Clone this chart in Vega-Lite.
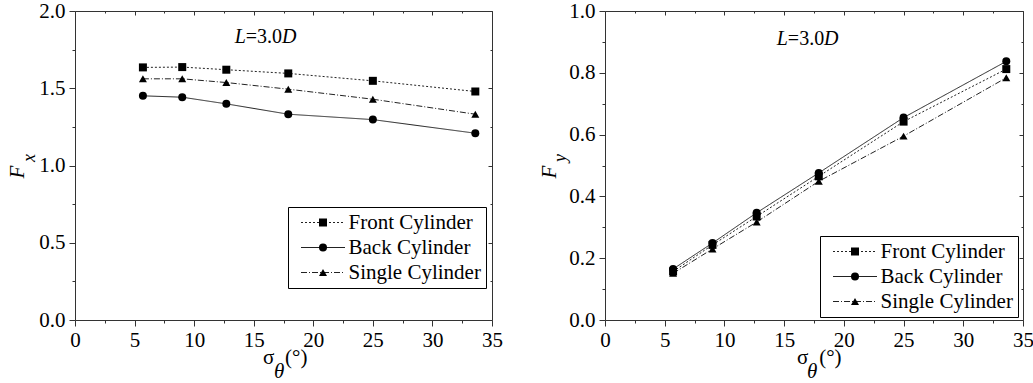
{
  "$schema": "https://vega.github.io/schema/vega-lite/v6.json",
  "background": "white",
  "padding": {"left": 7, "top": 0, "right": 0, "bottom": 0},
  "spacing": 35,
  "datasets": {
    "fx": [
      {"sigma": 5.7, "F": 1.635, "series": "Front Cylinder"},
      {"sigma": 9.0, "F": 1.637, "series": "Front Cylinder"},
      {"sigma": 12.7, "F": 1.620, "series": "Front Cylinder"},
      {"sigma": 17.9, "F": 1.596, "series": "Front Cylinder"},
      {"sigma": 25.0, "F": 1.548, "series": "Front Cylinder"},
      {"sigma": 33.6, "F": 1.479, "series": "Front Cylinder"},
      {"sigma": 5.7, "F": 1.451, "series": "Back Cylinder"},
      {"sigma": 9.0, "F": 1.442, "series": "Back Cylinder"},
      {"sigma": 12.7, "F": 1.399, "series": "Back Cylinder"},
      {"sigma": 17.9, "F": 1.332, "series": "Back Cylinder"},
      {"sigma": 25.0, "F": 1.297, "series": "Back Cylinder"},
      {"sigma": 33.6, "F": 1.209, "series": "Back Cylinder"},
      {"sigma": 5.7, "F": 1.561, "series": "Single Cylinder"},
      {"sigma": 9.0, "F": 1.561, "series": "Single Cylinder"},
      {"sigma": 12.7, "F": 1.537, "series": "Single Cylinder"},
      {"sigma": 17.9, "F": 1.494, "series": "Single Cylinder"},
      {"sigma": 25.0, "F": 1.429, "series": "Single Cylinder"},
      {"sigma": 33.6, "F": 1.332, "series": "Single Cylinder"}
    ],
    "fy": [
      {"sigma": 5.7, "F": 0.157, "series": "Front Cylinder"},
      {"sigma": 9.0, "F": 0.243, "series": "Front Cylinder"},
      {"sigma": 12.7, "F": 0.335, "series": "Front Cylinder"},
      {"sigma": 17.9, "F": 0.465, "series": "Front Cylinder"},
      {"sigma": 25.0, "F": 0.642, "series": "Front Cylinder"},
      {"sigma": 33.6, "F": 0.812, "series": "Front Cylinder"},
      {"sigma": 5.7, "F": 0.165, "series": "Back Cylinder"},
      {"sigma": 9.0, "F": 0.249, "series": "Back Cylinder"},
      {"sigma": 12.7, "F": 0.347, "series": "Back Cylinder"},
      {"sigma": 17.9, "F": 0.476, "series": "Back Cylinder"},
      {"sigma": 25.0, "F": 0.655, "series": "Back Cylinder"},
      {"sigma": 33.6, "F": 0.837, "series": "Back Cylinder"},
      {"sigma": 5.7, "F": 0.151, "series": "Single Cylinder"},
      {"sigma": 9.0, "F": 0.230, "series": "Single Cylinder"},
      {"sigma": 12.7, "F": 0.317, "series": "Single Cylinder"},
      {"sigma": 17.9, "F": 0.449, "series": "Single Cylinder"},
      {"sigma": 25.0, "F": 0.595, "series": "Single Cylinder"},
      {"sigma": 33.6, "F": 0.784, "series": "Single Cylinder"}
    ]
  },
  "hconcat": [
    {
      "width": 417,
      "height": 309,
      "layer": [
        {
          "data": {"name": "fx"},
          "mark": {"type": "line", "stroke": "#222", "strokeWidth": 1},
          "encoding": {
            "x": {"field": "sigma", "type": "quantitative", "scale": {"domain": [0, 35], "nice": false, "zero": false},
              "axis": {"orient": "bottom", "title": null, "values": [0, 2.5, 5, 7.5, 10, 12.5, 15, 17.5, 20, 22.5, 25, 27.5, 30, 32.5, 35],
                "labelExpr": "datum.value % 5 === 0 ? datum.label : ''",
                "tickSize": {"condition": {"test": "datum.value % 5 === 0", "value": 6}, "value": 3},
                "labelPadding": 3, "labelOverlap": false, "labelFlush": false}},
            "y": {"field": "F", "type": "quantitative", "scale": {"domain": [0, 2], "nice": false},
              "axis": {"orient": "left", "title": null, "values": [0, 0.25, 0.5, 0.75, 1, 1.25, 1.5, 1.75, 2],
                "labelExpr": "round(datum.value*4) % 2 === 0 ? format(datum.value, '.1f') : ''",
                "tickSize": {"condition": {"test": "round(datum.value*4) % 2 === 0", "value": 6}, "value": 3},
                "labelPadding": 4, "labelOverlap": false, "labelFlush": false}},
            "strokeDash": {"field": "series", "type": "nominal",
              "scale": {"domain": ["Front Cylinder", "Back Cylinder", "Single Cylinder"], "range": [[2, 2], [1, 0], [6, 2, 1, 2]]},
              "legend": {"title": null, "orient": "none", "legendX": 213, "legendY": 196,
                "padding": 5, "strokeColor": "black", "fillColor": "white", "cornerRadius": 0,
                "labelFont": "Liberation Serif", "labelFontSize": 21, "labelColor": "black",
                "symbolSize": 64, "symbolOffset": 19.5, "labelOffset": 15, "rowPadding": 3,
                "symbolStrokeWidth": 1, "symbolStrokeColor": "#222", "symbolType": "M-5.5,0L5.5,0"}}
          }
        },
        {
          "data": {"name": "fx"},
          "mark": {"type": "point", "filled": true, "fill": "black", "opacity": 1, "size": 64},
          "encoding": {
            "x": {"field": "sigma", "type": "quantitative",
              "axis": {"orient": "top", "title": null, "labels": false, "values": [0, 2.5, 5, 7.5, 10, 12.5, 15, 17.5, 20, 22.5, 25, 27.5, 30, 32.5, 35],
                "tickSize": {"condition": {"test": "datum.value % 5 === 0", "value": -4}, "value": -2}}},
            "y": {"field": "F", "type": "quantitative",
              "axis": {"orient": "right", "title": null, "labels": false, "values": [0, 0.25, 0.5, 0.75, 1, 1.25, 1.5, 1.75, 2],
                "tickSize": {"condition": {"test": "round(datum.value*4) % 2 === 0", "value": -4}, "value": -2}}},
            "shape": {"field": "series", "type": "nominal", "sort": ["Front Cylinder", "Back Cylinder", "Single Cylinder"],
              "scale": {"range": ["square", "circle", "triangle-up"]},
              "legend": {"title": null, "orient": "none", "legendX": 213, "legendY": 196,
                "padding": 5, "cornerRadius": 0,
                "labelFont": "Liberation Serif", "labelFontSize": 21, "labelColor": "black", "labelOpacity": 0,
                "symbolSize": 64, "symbolOffset": 19.5, "labelOffset": 15, "rowPadding": 3,
                "symbolFillColor": "black", "symbolStrokeWidth": 0}}
          }
        },
        {
          "data": {"values": [{"t": "=3.0"}]},
          "mark": {"type": "text", "font": "Liberation Serif", "fontSize": 20, "align": "center", "baseline": "alphabetic", "color": "black"},
          "encoding": {"text": {"field": "t"}, "x": {"datum": 15.86, "axis": null}, "y": {"datum": 1.793, "axis": null}}
        },
        {
          "data": {"values": [{"t": "L"}]},
          "mark": {"type": "text", "font": "Liberation Serif", "fontSize": 20, "fontStyle": "italic", "align": "right", "dx": -18, "baseline": "alphabetic", "color": "black"},
          "encoding": {"text": {"field": "t"}, "x": {"datum": 15.86, "axis": null}, "y": {"datum": 1.793, "axis": null}}
        },
        {
          "data": {"values": [{"t": "D"}]},
          "mark": {"type": "text", "font": "Liberation Serif", "fontSize": 20, "fontStyle": "italic", "align": "left", "dx": 18, "baseline": "alphabetic", "color": "black"},
          "encoding": {"text": {"field": "t"}, "x": {"datum": 15.86, "axis": null}, "y": {"datum": 1.793, "axis": null}}
        },
        {
          "data": {"values": [{"t": "F"}]},
          "mark": {"type": "text", "font": "Liberation Serif", "fontSize": 21, "fontStyle": "italic", "align": "center", "baseline": "middle", "angle": 270, "color": "black"},
          "encoding": {"text": {"field": "t"}, "x": {"datum": -4.78, "axis": null}, "y": {"datum": 0.958, "axis": null}}
        },
        {
          "data": {"values": [{"t": "x"}]},
          "mark": {"type": "text", "font": "Liberation Serif", "fontSize": 18, "fontStyle": "italic", "align": "center", "baseline": "middle", "angle": 270, "color": "black"},
          "encoding": {"text": {"field": "t"}, "x": {"datum": -3.78, "axis": null}, "y": {"datum": 1.049, "axis": null}}
        },
        {
          "data": {"values": [{"t": "σ"}]},
          "mark": {"type": "text", "font": "Liberation Serif", "fontSize": 21, "align": "left", "baseline": "alphabetic", "color": "black"},
          "encoding": {"text": {"field": "t"}, "x": {"datum": 15.78, "axis": null}, "y": {"datum": -0.285, "axis": null}}
        },
        {
          "data": {"values": [{"t": "θ"}]},
          "mark": {"type": "text", "font": "Liberation Serif", "fontSize": 21, "fontStyle": "italic", "align": "left", "baseline": "alphabetic", "color": "black"},
          "encoding": {"text": {"field": "t"}, "x": {"datum": 16.7, "axis": null}, "y": {"datum": -0.375, "axis": null}}
        },
        {
          "data": {"values": [{"t": "(°)"}]},
          "mark": {"type": "text", "font": "Liberation Serif", "fontSize": 21, "align": "left", "baseline": "alphabetic", "color": "black"},
          "encoding": {"text": {"field": "t"}, "x": {"datum": 17.63, "axis": null}, "y": {"datum": -0.285, "axis": null}}
        }
      ],
      "resolve": {"axis": {"x": "independent", "y": "independent"}}
    },
    {
      "width": 418,
      "height": 309,
      "layer": [
        {
          "data": {"name": "fy"},
          "mark": {"type": "line", "stroke": "#222", "strokeWidth": 1},
          "encoding": {
            "x": {"field": "sigma", "type": "quantitative", "scale": {"domain": [0, 35], "nice": false, "zero": false},
              "axis": {"orient": "bottom", "title": null, "values": [0, 2.5, 5, 7.5, 10, 12.5, 15, 17.5, 20, 22.5, 25, 27.5, 30, 32.5, 35],
                "labelExpr": "datum.value % 5 === 0 ? datum.label : ''",
                "tickSize": {"condition": {"test": "datum.value % 5 === 0", "value": 6}, "value": 3},
                "labelPadding": 3, "labelOverlap": false, "labelFlush": false}},
            "y": {"field": "F", "type": "quantitative", "scale": {"domain": [0, 1], "nice": false},
              "axis": {"orient": "left", "title": null, "values": [0, 0.1, 0.2, 0.3, 0.4, 0.5, 0.6, 0.7, 0.8, 0.9, 1],
                "labelExpr": "round(datum.value*10) % 2 === 0 ? format(datum.value, '.1f') : ''",
                "tickSize": {"condition": {"test": "round(datum.value*10) % 2 === 0", "value": 6}, "value": 3},
                "labelPadding": 4, "labelOverlap": false, "labelFlush": false}},
            "strokeDash": {"field": "series", "type": "nominal",
              "scale": {"domain": ["Front Cylinder", "Back Cylinder", "Single Cylinder"], "range": [[2, 2], [1, 0], [6, 2, 1, 2]]},
              "legend": {"title": null, "orient": "none", "legendX": 215, "legendY": 225,
                "padding": 5, "strokeColor": "black", "fillColor": "white", "cornerRadius": 0,
                "labelFont": "Liberation Serif", "labelFontSize": 21, "labelColor": "black",
                "symbolSize": 64, "symbolOffset": 19.5, "labelOffset": 15, "rowPadding": 3,
                "symbolStrokeWidth": 1, "symbolStrokeColor": "#222", "symbolType": "M-5.5,0L5.5,0"}}
          }
        },
        {
          "data": {"name": "fy"},
          "mark": {"type": "point", "filled": true, "fill": "black", "opacity": 1, "size": 64},
          "encoding": {
            "x": {"field": "sigma", "type": "quantitative",
              "axis": {"orient": "top", "title": null, "labels": false, "values": [0, 2.5, 5, 7.5, 10, 12.5, 15, 17.5, 20, 22.5, 25, 27.5, 30, 32.5, 35],
                "tickSize": {"condition": {"test": "datum.value % 5 === 0", "value": -4}, "value": -2}}},
            "y": {"field": "F", "type": "quantitative",
              "axis": {"orient": "right", "title": null, "labels": false, "values": [0, 0.1, 0.2, 0.3, 0.4, 0.5, 0.6, 0.7, 0.8, 0.9, 1],
                "tickSize": {"condition": {"test": "round(datum.value*10) % 2 === 0", "value": -4}, "value": -2}}},
            "shape": {"field": "series", "type": "nominal", "sort": ["Front Cylinder", "Back Cylinder", "Single Cylinder"],
              "scale": {"range": ["square", "circle", "triangle-up"]},
              "legend": {"title": null, "orient": "none", "legendX": 215, "legendY": 225,
                "padding": 5, "cornerRadius": 0,
                "labelFont": "Liberation Serif", "labelFontSize": 21, "labelColor": "black", "labelOpacity": 0,
                "symbolSize": 64, "symbolOffset": 19.5, "labelOffset": 15, "rowPadding": 3,
                "symbolFillColor": "black", "symbolStrokeWidth": 0}}
          }
        },
        {
          "data": {"values": [{"t": "=3.0"}]},
          "mark": {"type": "text", "font": "Liberation Serif", "fontSize": 20, "align": "center", "baseline": "alphabetic", "color": "black"},
          "encoding": {"text": {"field": "t"}, "x": {"datum": 16.83, "axis": null}, "y": {"datum": 0.89, "axis": null}}
        },
        {
          "data": {"values": [{"t": "L"}]},
          "mark": {"type": "text", "font": "Liberation Serif", "fontSize": 20, "fontStyle": "italic", "align": "right", "dx": -18, "baseline": "alphabetic", "color": "black"},
          "encoding": {"text": {"field": "t"}, "x": {"datum": 16.83, "axis": null}, "y": {"datum": 0.89, "axis": null}}
        },
        {
          "data": {"values": [{"t": "D"}]},
          "mark": {"type": "text", "font": "Liberation Serif", "fontSize": 20, "fontStyle": "italic", "align": "left", "dx": 18, "baseline": "alphabetic", "color": "black"},
          "encoding": {"text": {"field": "t"}, "x": {"datum": 16.83, "axis": null}, "y": {"datum": 0.89, "axis": null}}
        },
        {
          "data": {"values": [{"t": "F"}]},
          "mark": {"type": "text", "font": "Liberation Serif", "fontSize": 21, "fontStyle": "italic", "align": "center", "baseline": "middle", "angle": 270, "color": "black"},
          "encoding": {"text": {"field": "t"}, "x": {"datum": -4.61, "axis": null}, "y": {"datum": 0.479, "axis": null}}
        },
        {
          "data": {"values": [{"t": "y"}]},
          "mark": {"type": "text", "font": "Liberation Serif", "fontSize": 18, "fontStyle": "italic", "align": "center", "baseline": "middle", "angle": 270, "color": "black"},
          "encoding": {"text": {"field": "t"}, "x": {"datum": -3.68, "axis": null}, "y": {"datum": 0.524, "axis": null}}
        },
        {
          "data": {"values": [{"t": "σ"}]},
          "mark": {"type": "text", "font": "Liberation Serif", "fontSize": 21, "align": "left", "baseline": "alphabetic", "color": "black"},
          "encoding": {"text": {"field": "t"}, "x": {"datum": 16.08, "axis": null}, "y": {"datum": -0.142, "axis": null}}
        },
        {
          "data": {"values": [{"t": "θ"}]},
          "mark": {"type": "text", "font": "Liberation Serif", "fontSize": 21, "fontStyle": "italic", "align": "left", "baseline": "alphabetic", "color": "black"},
          "encoding": {"text": {"field": "t"}, "x": {"datum": 16.92, "axis": null}, "y": {"datum": -0.188, "axis": null}}
        },
        {
          "data": {"values": [{"t": "(°)"}]},
          "mark": {"type": "text", "font": "Liberation Serif", "fontSize": 21, "align": "left", "baseline": "alphabetic", "color": "black"},
          "encoding": {"text": {"field": "t"}, "x": {"datum": 17.93, "axis": null}, "y": {"datum": -0.142, "axis": null}}
        }
      ],
      "resolve": {"axis": {"x": "independent", "y": "independent"}}
    }
  ],
  "resolve": {"scale": {"shape": "independent", "strokeDash": "independent", "x": "independent", "y": "independent"}, "legend": {"shape": "independent", "strokeDash": "independent"}},
  "config": {
    "font": "Liberation Serif",
    "view": {"stroke": null},
    "axis": {"labelFont": "Liberation Serif", "labelFontSize": 21, "labelColor": "black", "domainColor": "#333", "tickColor": "#333", "grid": false, "domainWidth": 1, "tickWidth": 1}
  }
}
